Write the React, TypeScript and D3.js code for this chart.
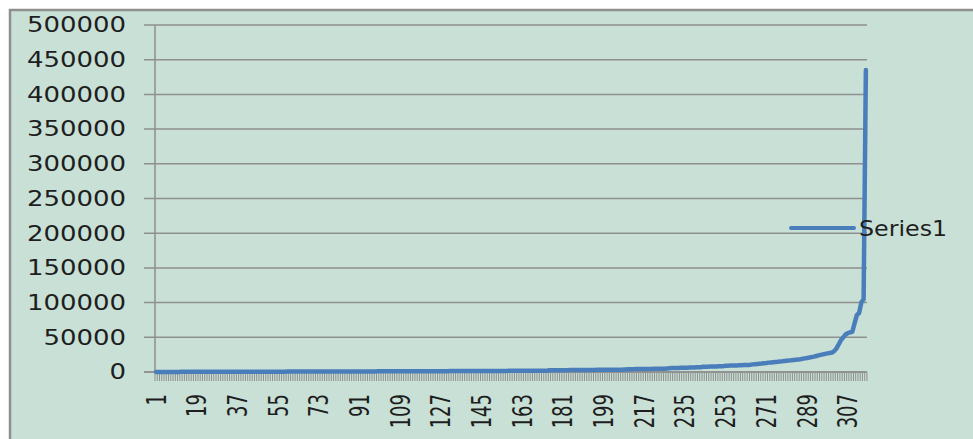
import React from "react";
import * as d3 from "d3";

const values: number[] = [
  105,112,118,126,131,140,148,153,161,170,176,183,190,198,205,
  212,220,226,233,241,250,256,263,270,278,285,292,300,307,315,
  322,330,338,345,352,360,368,375,383,391,398,406,414,421,430,
  438,446,453,461,470,478,486,494,502,510,518,527,535,544,552,
  560,569,577,586,594,603,612,620,629,638,647,656,664,673,682,
  691,700,709,718,727,737,746,755,764,774,783,792,802,811,821,
  830,840,850,860,869,879,889,899,909,919,929,940,950,960,970,
  981,991,1002,1012,1023,1034,1045,1055,1066,1077,1088,1100,1111,1122,1134,
  1145,1157,1168,1180,1192,1204,1216,1228,1240,1252,1265,1277,1290,1302,1315,
  1328,1341,1354,1367,1380,1394,1407,1421,1434,1448,1462,1476,1490,1504,1519,
  1533,1548,1562,1577,1592,1607,1622,1637,1653,1668,1684,1700,1716,1732,1748,
  1764,1781,1797,1814,1831,1848,1865,1882,1900,
  2450,2480,2510,2540,2570,2600,2630,2660,2690,2720,2750,2780,2810,2840,2870,
  2900,2930,2960,2990,3020,3050,3080,3110,3140,3170,3200,3230,3260,3290,3320,
  3350,3380,3410,3440,3470,
  4000,4050,4100,4150,4200,4250,4300,4350,4400,4450,4500,4550,4600,4650,4700,4750,4800,4900,
  5500,5600,5700,5800,5900,6000,6100,6200,6300,6400,6500,6600,6700,6800,6950,
  7500,7600,7700,7800,7900,8000,8100,8200,8300,8450,
  9000,9100,9200,9300,9400,9500,9650,9800,9950,10100,10250,10450,
  11000,11300,11600,11900,12200,12600,13000,
  13500,13800,14100,14400,14700,15100,15500,
  16000,16300,16600,16900,17300,17700,18100,18500,
  19000,19600,20200,20800,21500,22200,23000,
  24000,24700,25400,26100,26800,27400,28000,
  30000,34000,40000,46000,50000,54000,56000,57000,58000,70000,82000,85000,100000,105000,435000,
];

const categories: string[] = values.map((_, i) => String(i + 1));
const yTicks: number[] = [0, 50000, 100000, 150000, 200000, 250000, 300000, 350000, 400000, 450000, 500000];
const seriesName = "Series1";

const BG = "#C8E0D6";
const GRID = "#8f8f8f";
const LINE = "#4A7EBB";
const FONT = "'DejaVu Sans', Verdana, sans-serif";

export default function App() {
  const left = 155, right = 867, top = 25, bottom = 372;
  const x = d3.scaleBand<string>().domain(categories).range([left, right]).paddingInner(0).paddingOuter(0);
  const y = d3.scaleLinear().domain([0, 500000]).range([bottom, top]);
  const bw = x.bandwidth();
  const line = d3
    .line<number>()
    .x((_, i) => (x(categories[i]) as number) + bw / 2)
    .y((d) => y(d));

  const boundaries = d3.range(categories.length + 1).map((i) => left + i * bw);

  return (
    <svg
      width={973}
      height={439}
      style={{ position: "absolute", left: 0, top: 0, display: "block" }}
    >
      <rect x={0} y={0} width={973} height={439} fill="#ffffff" />
      <rect x={10} y={10} width={980} height={450} fill={BG} stroke={GRID} strokeWidth={2.5} />
      {/* gridlines */}
      {yTicks.map((t) => (
        <line key={"g" + t} x1={144} x2={right} y1={y(t)} y2={y(t)} stroke={GRID} strokeWidth={1.5} />
      ))}
      {/* y axis */}
      <line x1={left} x2={left} y1={top} y2={bottom} stroke={GRID} strokeWidth={1.5} />
      {yTicks.map((t) => (
        <text
          key={"yl" + t}
          transform={`translate(126,${y(t)}) scale(1.18,1)`}
          textAnchor="end"
          dominantBaseline="central"
          fontFamily={FONT}
          fontSize={22}
          fill="#1e1e1e"
        >
          {t}
        </text>
      ))}
      {/* x axis ticks */}
      {boundaries.map((bx, i) => (
        <line key={"xt" + i} x1={bx} x2={bx} y1={bottom} y2={381} stroke={GRID} strokeWidth={1} />
      ))}
      <line x1={144} x2={right} y1={bottom} y2={bottom} stroke={GRID} strokeWidth={1.5} />
      {categories.map((c, i) =>
        i % 18 === 0 ? (
          <text
            key={"xl" + c}
            transform={`translate(${(x(c) as number) + bw / 2},394) rotate(-90) scale(1,1.5)`}
            textAnchor="end"
            dominantBaseline="central"
            fontFamily={FONT}
            fontSize={18}
            fill="#1e1e1e"
          >
            {c}
          </text>
        ) : null
      )}
      {/* series */}
      <path
        d={line(values) || ""}
        fill="none"
        stroke={LINE}
        strokeWidth={4.5}
        strokeLinejoin="round"
        strokeLinecap="round"
      />
      {/* legend */}
      <line x1={791} x2={854} y1={228} y2={228} stroke={LINE} strokeWidth={4} strokeLinecap="round" />
      <text
        transform="translate(859,228) scale(1.08,1)"
        dominantBaseline="central"
        fontFamily={FONT}
        fontSize={22}
        fill="#1e1e1e"
      >
        {seriesName}
      </text>
    </svg>
  );
}
